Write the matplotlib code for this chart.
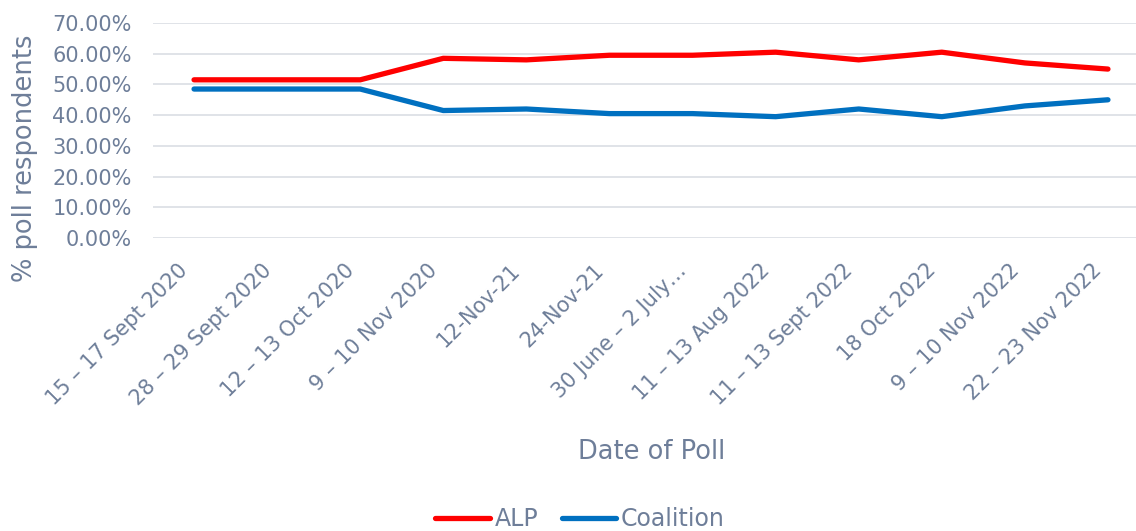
import matplotlib
matplotlib.use("Agg")
import matplotlib.pyplot as plt
import matplotlib.transforms as mtrans
from matplotlib.ticker import FuncFormatter

# poll dates and two-party preferred results
dates = ["15 – 17 Sept 2020", "28 – 29 Sept 2020", "12 – 13 Oct 2020", "9 – 10 Nov 2020",
         "12-Nov-21", "24-Nov-21", "30 June – 2 July…", "11 – 13 Aug 2022",
         "11 – 13 Sept 2022", "18 Oct 2022", "9 – 10 Nov 2022", "22 – 23 Nov 2022"]
alp = [51.5, 51.5, 51.5, 58.5, 58, 59.5, 59.5, 60.5, 58, 60.5, 57, 55]
coalition = [48.5, 48.5, 48.5, 41.5, 42, 40.5, 40.5, 39.5, 42, 39.5, 43, 45]

txt = "#6e7e99"
plt.rcParams['font.family'] = ['DejaVu Sans']

fig = plt.figure(figsize=(11.36, 5.31), dpi=100)
ax = fig.add_axes([152.5/1136, 1-238/531, 997/1136, 215/531])

x = range(len(dates))
ax.plot(x, alp, color="#ff0000", lw=3.8, solid_capstyle="round", label="ALP")
ax.plot(x, coalition, color="#0070c0", lw=3.8, solid_capstyle="round", label="Coalition")

ax.set_xlim(-0.5, len(dates)-0.5)
ax.set_ylim(0, 70)
ax.set_yticks(range(0, 71, 10))
ax.yaxis.set_major_formatter(FuncFormatter(lambda v, p: f"{v:.2f}%"))
ax.grid(axis="y", color="#dde1e6", lw=1.3)
ax.set_axisbelow(True)
for s in ax.spines.values():
    s.set_visible(False)
ax.tick_params(length=0, labelsize=15, colors=txt)
ax.tick_params(axis="y", pad=15)
ax.tick_params(axis="x", pad=21)
ax.set_xticks(list(x))
ax.set_xticklabels(dates, rotation=45, ha="right", rotation_mode="anchor", va="center")
# nudge the slanted labels left a bit
shift = mtrans.ScaledTranslation(-9/100, 0, fig.dpi_scale_trans)
for lbl in ax.get_xticklabels():
    lbl.set_transform(lbl.get_transform() + shift)

fig.text(652/1136, 1-452/531, "Date of Poll", color=txt, fontsize=18.5, ha="center", va="center")
fig.text(25/1136, 1-158/531, "% poll respondents", color=txt, fontsize=18.5,
         rotation=90, ha="center", va="center")

fig.legend(loc="center", bbox_to_anchor=(580/1136, 1-519/531), ncol=2, frameon=False,
           fontsize=17, labelcolor=txt, handlelength=2.3, handletextpad=0.2,
           columnspacing=1.0)

fig.savefig("out.png", dpi=100)
